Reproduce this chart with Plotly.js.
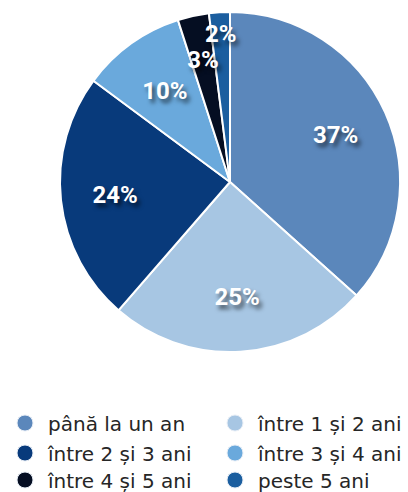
<!DOCTYPE html>
<html><head><meta charset="utf-8">
<script src="https://cdn.plot.ly/plotly-3.0.1.min.js"></script>
<style>html,body{margin:0;padding:0;background:#fff}</style>
</head><body><div id="chart" style="width:408px;height:492px"></div>
<script>
const categories = ["până la un an","între 1 și 2 ani","între 2 și 3 ani","între 3 și 4 ani","între 4 și 5 ani","peste 5 ani"];
const values = [37, 25, 24, 10, 3, 2];
const labelsText = ["37%","25%","24%","10%","3%","2%"];
const colors = ["#5b87bb","#a7c6e3","#083a7b","#6aa9dc","#050e22","#1b5e9f"];

// pie geometry (layout only)
const W = 408, H = 492, CX = 230, CY = 182, R = 170;
function dom(r) {
  return {x: [(CX - r) / W, (CX + r) / W], y: [(H - CY - r) / H, (H - CY + r) / H]};
}
const textfont = {family: "Roboto, sans-serif", size: 24, color: "#ffffff", weight: "bold",
  shadow: "3px 4px 4px rgba(0,0,0,0.6)"};

const traces = [{
  type: "pie", labels: categories, values: values, sort: false, direction: "clockwise",
  rotation: 0, showlegend: false, textinfo: "none", hoverinfo: "skip",
  marker: {colors: colors, line: {color: "#ffffff", width: 2}},
  domain: dom(R)
}];
// label layers: same values, transparent slices, used only to place the texts
function labelLayer(idx, r, hole) {
  traces.push({
    type: "pie", labels: categories, values: values, sort: false, direction: "clockwise",
    rotation: 0, showlegend: false, hoverinfo: "skip", hole: hole,
    text: labelsText.map((t, i) => idx.includes(i) ? t : ""),
    textinfo: "text", textposition: "inside", insidetextorientation: "horizontal",
    textfont: textfont,
    marker: {colors: categories.map(() => "rgba(0,0,0,0)"), line: {width: 0}},
    domain: dom(r)
  });
}
labelLayer([0, 1, 2], R, 0.36);
labelLayer([3], 146, 0);
labelLayer([4], 137, 0);
labelLayer([5], 158, 0);

// legend: one entry per legend box, two columns
const legendPos = [[2, 423], [212, 423], [2, 453], [212, 453], [2, 480], [212, 480]];
const layout = {
  width: W, height: H,
  margin: {l: 0, r: 0, t: 0, b: 0, autoexpand: false},
  paper_bgcolor: "#ffffff", plot_bgcolor: "rgba(0,0,0,0)",
  xaxis: {visible: false}, yaxis: {visible: false},
  uniformtext: {mode: "show", minsize: 24},
  showlegend: true
};
categories.forEach((c, i) => {
  const key = i === 0 ? "legend" : "legend" + (i + 1);
  traces.push({type: "scatter", mode: "markers", x: [null], y: [null], name: c,
    legend: key, showlegend: true, hoverinfo: "skip",
    marker: {color: colors[i], size: 16, symbol: "circle", line: {color: "#e8eef6", width: 1}}});
  layout[key] = {x: legendPos[i][0] / W, xanchor: "left", y: 1 - legendPos[i][1] / H, yanchor: "middle",
    bgcolor: "rgba(0,0,0,0)", itemwidth: 36,
    font: {family: "DejaVu Sans, sans-serif", size: 20, color: "#262626"}};
});
Plotly.newPlot("chart", traces, layout, {displayModeBar: false, staticPlot: true});
</script></body></html>
